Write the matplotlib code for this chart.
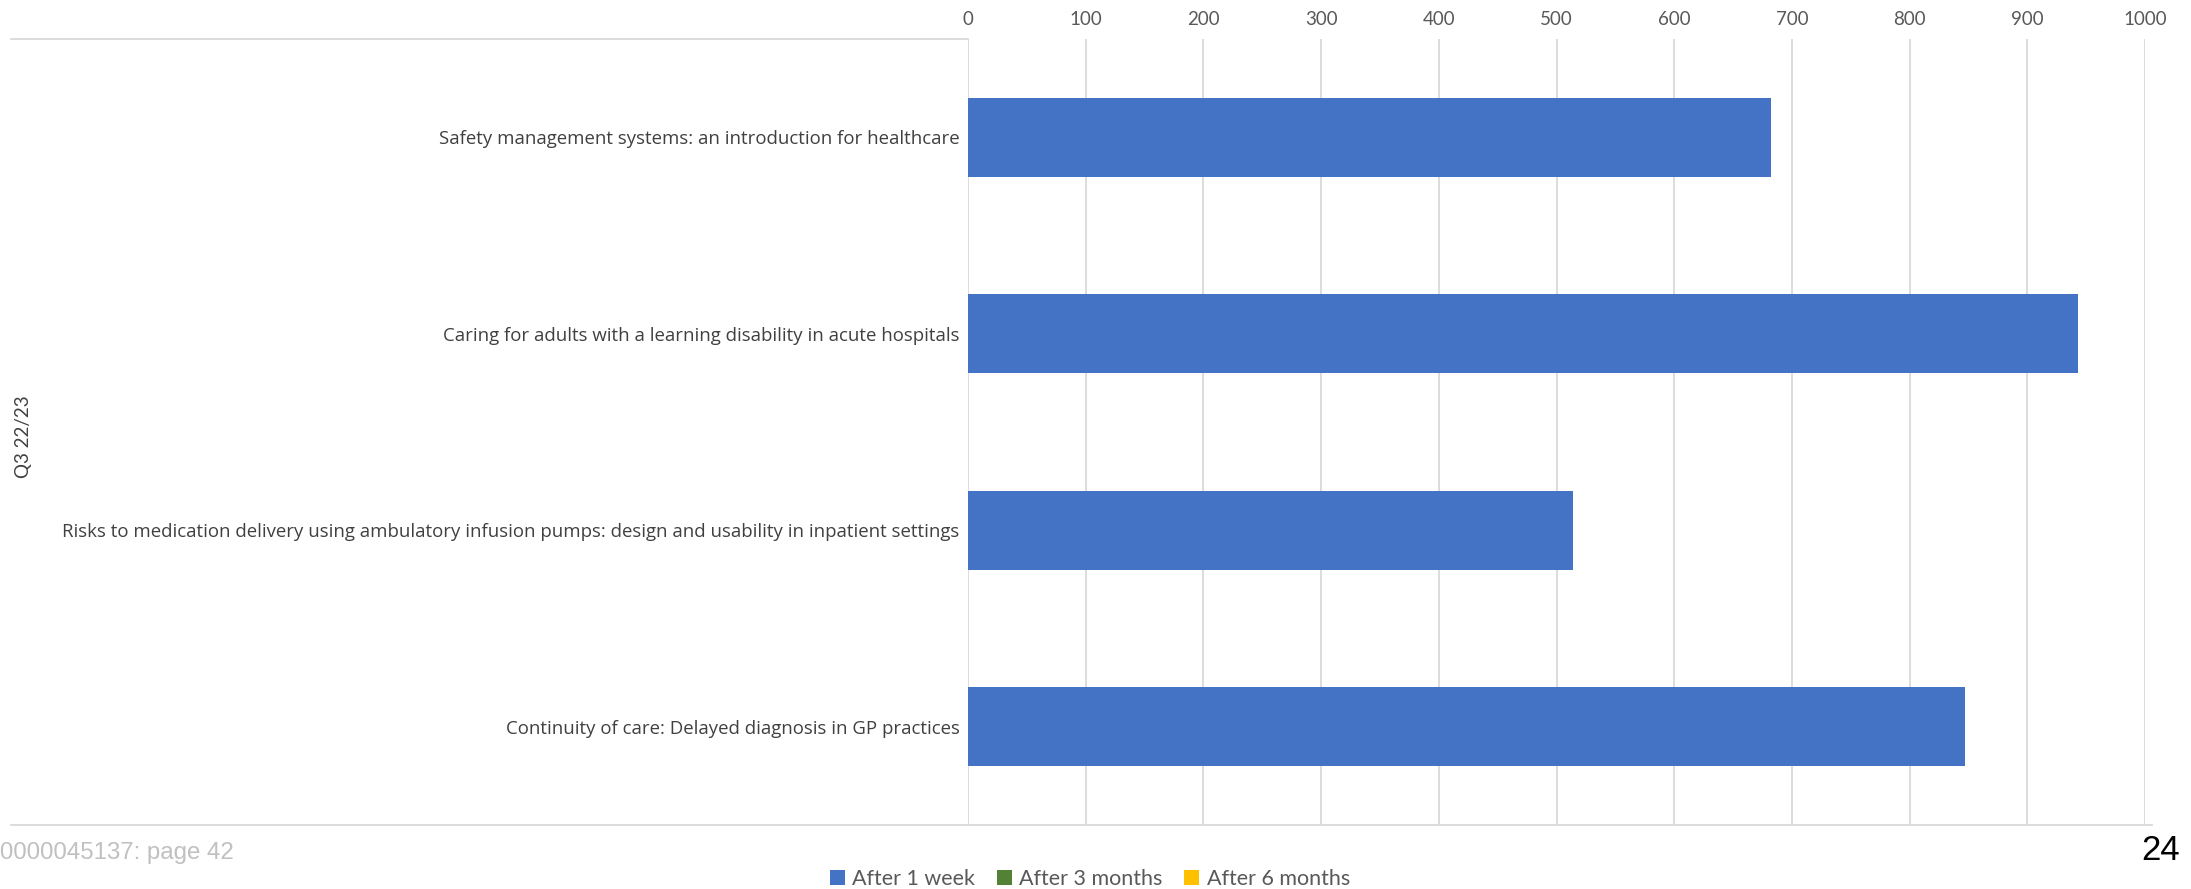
import matplotlib
matplotlib.use("Agg")
import matplotlib.pyplot as plt
from matplotlib.patches import Patch
from matplotlib.lines import Line2D

# data
group_label = "Q3 22/23"
courses = [
    "Safety management systems: an introduction for healthcare",
    "Caring for adults with a learning disability in acute hospitals",
    "Risks to medication delivery using ambulatory infusion pumps: design and usability in inpatient settings",
    "Continuity of care: Delayed diagnosis in GP practices",
]
after_1_week = [682, 943, 514, 847]
series_names = ["After 1 week", "After 3 months", "After 6 months"]
series_colors = ["#4472C4", "#548235", "#FFC000"]
x_ticks = [0, 100, 200, 300, 400, 500, 600, 700, 800, 900, 1000]

W, H = 2191, 889
fig = plt.figure(figsize=(W / 100, H / 100), dpi=100)

# plot area
left, right = 968 / W, 2145 / W
top, bottom = 1 - 39 / H, 1 - 825 / H
ax = fig.add_axes([left, bottom, right - left, top - bottom])

ypos = list(range(len(courses)))
ax.barh(ypos, after_1_week, height=0.4, color=series_colors[0], linewidth=0, zorder=3)
ax.set_ylim(len(courses) - 0.5, -0.5)
ax.set_xlim(0, 1000)
ax.set_xticks(x_ticks)
ax.xaxis.tick_top()
ax.tick_params(axis="x", length=0, pad=8, labelsize=13.5, labelcolor="#595959")
for lab in ax.get_xticklabels():
    lab.set_fontfamily("Lato")
ax.set_yticks(ypos)
ax.set_yticklabels(courses, fontfamily="Open Sans", fontsize=13.4, color="#404040")
ax.tick_params(axis="y", length=0, pad=6)
ax.grid(axis="x", color="#D9D9D9", linewidth=1.3, zorder=0)
for s in ax.spines.values():
    s.set_visible(False)

# multi-level category separators
fig.add_artist(Line2D([11 / W, left], [top, top], color="#D9D9D9", lw=1.3))
fig.add_artist(Line2D([11 / W, 2152 / W], [bottom, bottom], color="#D9D9D9", lw=1.3))

fig.text(23 / W, 1 - 437 / H, group_label, rotation=90, ha="center", va="center",
         fontfamily="Lato", fontsize=13.5, color="#404040")

fig.text(0, 1 - 853 / H, "0000045137: page 42", ha="left", va="center",
         fontfamily="Liberation Sans", fontsize=17.3, color="#C0C0C0")
fig.text(2161 / W, 1 - 850 / H, "24", ha="center", va="center",
         fontfamily="Liberation Sans", fontsize=25, color="black")

handles = [Patch(facecolor=c, edgecolor="none") for c in series_colors]
fig.legend(handles, series_names, loc="center", bbox_to_anchor=(1090 / W, 1 - 879 / H),
           ncol=3, frameon=False, handlelength=0.7, handleheight=0.7,
           handletextpad=0.35, columnspacing=1.0,
           prop={"family": "Lato", "size": 15.5}, labelcolor="#595959")

fig.savefig("out.png", dpi=100)
